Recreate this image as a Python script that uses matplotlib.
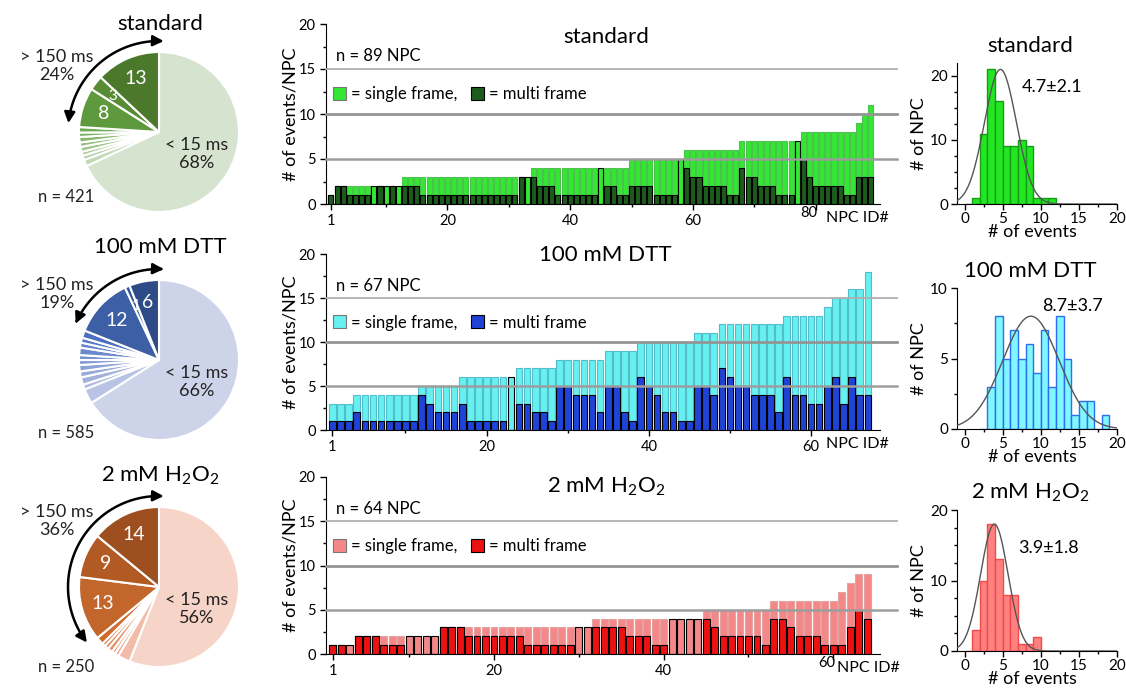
import numpy as np
import matplotlib
matplotlib.use("Agg")
import matplotlib.pyplot as plt
import matplotlib.colors as mcolors
from matplotlib.patches import FancyArrowPatch, Patch
from matplotlib.path import Path
from matplotlib.ticker import MultipleLocator, FixedLocator, FixedFormatter

plt.rcParams['font.family'] = ['Lato', 'DejaVu Sans']
plt.rcParams['mathtext.fontset'] = 'custom'
plt.rcParams['mathtext.rm'] = 'Lato'
plt.rcParams['mathtext.it'] = 'Lato:italic'
plt.rcParams['mathtext.bf'] = 'Lato:bold'

W, H = 1126, 688

titles = ['standard', '100 mM DTT', '2 mM H$_2$O$_2$']

# pie charts: share of events (%) per dwell time class
pie_fast = [68, 66, 56]          # < 15 ms
pie_slow_pct = [24, 19, 36]      # > 150 ms
pie_n = [421, 585, 250]
pie_mid = [
    [1.3, 0.9, 0.8, 1.0, 0.9, 1.1, 0.9, 1.1],
    [3.0, 1.0, 1.5, 1.2, 1.3, 1.0, 1.0, 1.5, 1.0, 1.0, 1.5],
    [2.5, 0.8, 0.7, 1.0, 0.8, 0.7, 1.5],
]
pie_slow = [[8, 3, 13], [12, 1, 6], [13, 9, 14]]

# events per NPC (sorted), total and multi frame part
std_total = [1, 2, 2, 2, 2, 2, 2, 2, 2, 2, 2, 2,
             3, 3, 3, 3, 3, 3, 3, 3, 3, 3, 3, 3, 3, 3, 3, 3, 3, 3, 3, 3, 3,
             4, 4, 4, 4, 4, 4, 4, 4, 4, 4, 4, 4, 4, 4, 4, 4,
             5, 5, 5, 5, 5, 5, 5, 5, 5,
             6, 6, 6, 6, 6, 6, 6, 6, 6,
             7, 7, 7, 7, 7, 7, 7, 7, 7, 7,
             8, 8, 8, 8, 8, 8, 8, 8, 8,
             9, 10, 11]
std_multi = [1, 2, 2, 1, 1, 1, 1, 0, 2, 0, 2, 0,
             2, 2, 2, 1, 1, 1, 1, 1, 1, 1, 1, 1, 1, 1, 1, 1, 1, 1, 1, 3, 0,
             3, 2, 2, 2, 1, 1, 1, 1, 1, 1, 1, 0, 2, 2, 1, 1,
             2, 2, 2, 2, 1, 1, 1, 1, 0,
             4, 3, 3, 2, 2, 2, 2, 1, 1,
             4, 3, 3, 2, 2, 2, 1, 1, 1, 0,
             5, 3, 2, 2, 2, 2, 2, 1, 1,
             3, 3, 3]

dtt_total = [3, 3, 3, 4, 4, 4, 4, 4, 4, 4, 4,
             5, 5, 5, 5, 5, 6, 6, 6, 6, 6, 6, 6,
             7, 7, 7, 7, 7, 8, 8, 8, 8, 8, 8,
             9, 9, 9, 9, 10, 10, 10, 10, 10, 10, 10,
             11, 11, 11, 12, 12, 12, 12, 12, 12, 12, 12,
             13, 13, 13, 13, 13, 14, 15, 15, 16, 16, 18]
dtt_multi = [1, 1, 1, 2, 1, 1, 1, 1, 1, 1, 1,
             4, 3, 2, 2, 2, 3, 1, 1, 1, 1, 1, 0,
             3, 3, 2, 2, 1, 5, 5, 4, 4, 4, 2,
             5, 5, 2, 1, 6, 5, 4, 2, 2, 1, 1,
             5, 5, 4, 7, 6, 5, 5, 4, 4, 4, 2,
             6, 4, 4, 3, 3, 5, 6, 3, 6, 4, 4]

h2o2_total = [1, 1, 1, 2, 2, 2, 2, 2, 2, 2, 2, 2, 2,
              3, 3, 3, 3, 3, 3, 3, 3, 3, 3, 3, 3, 3, 3, 3, 3, 3, 3,
              4, 4, 4, 4, 4, 4, 4, 4, 4, 4, 4, 4, 4,
              5, 5, 5, 5, 5, 5, 5, 5,
              6, 6, 6, 6, 6, 6, 6, 6,
              7, 8, 9, 9]
h2o2_multi = [1, 1, 0, 2, 2, 2, 1, 1, 1, 0, 0, 0, 0,
              3, 3, 3, 2, 2, 2, 2, 2, 2, 2, 1, 1, 1, 1, 1, 1, 0, 0,
              3, 3, 3, 3, 2, 2, 2, 1, 1, 0, 0, 0, 0,
              4, 3, 2, 2, 2, 2, 2, 1,
              4, 4, 3, 2, 2, 2, 1, 1,
              1, 3, 5, 4]

totals = [std_total, dtt_total, h2o2_total]
multis = [std_multi, dtt_multi, h2o2_multi]
npc_ticks = [[1, 20, 40, 60, 80], [1, 20, 40, 60], [1, 20, 40, 60]]
raise_last_tick = [True, False, True]
npc_label_x = [1.015, 1.015, 1.035]

# gaussian fits of the histograms
fit_mean = [4.7, 8.7, 3.9]
fit_sd = [2.1, 3.7, 1.8]
fit_peak = [21.0, 8.0, 18.0]
hist_ymax = [22, 10, 20]
hist_ymajor = [10, 5, 10]

# colours
c_fast = ['#d6e4cf', '#cdd4ea', '#f7d4c8']
c_mid_lo = ['#c3d9b6', '#b9c3e4', '#f3bba9']
c_mid_hi = ['#6fab52', '#4b70c3', '#cf6b2d']
c_slow = [['#5e9a3d', '#578b34', '#4b782b'],
          ['#3c5fa6', '#35569b', '#2e4b87'],
          ['#c2662b', '#b25a23', '#9d4f1f']]
c_single = ['#33e833', '#66f0f0', '#f48888']
c_single_edge = ['#4fbf4f', '#55bccb', '#e3a3a3']
c_multi = ['#1d5c1d', '#1f43d6', '#ee1111']
c_hist = ['#22e622', '#80f6ff', '#ff8080']
c_hist_edge = ['#179c17', '#2d6ff0', '#f04a4a']


def mix(a, b, t):
	a = np.array(mcolors.to_rgb(a))
	b = np.array(mcolors.to_rgb(b))
	return tuple(a + (b - a) * t)


def draw_pies(fig):
	ax = fig.add_axes([0, 0, 1, 1])
	cx, R = 159, 80
	pie_cy = [132, 360, 587]
	n_y = [197, 433, 667]
	title_y = [24, 247, 476]
	for i in range(3):
		cy = H - pie_cy[i]
		mids = pie_mid[i]
		mcol = [mix(c_mid_lo[i], c_mid_hi[i], t) for t in np.linspace(0, 1, len(mids))]
		vals = [pie_fast[i]] + mids + pie_slow[i]
		cols = [c_fast[i]] + mcol + c_slow[i]
		wedges, _ = ax.pie(vals, colors=cols, startangle=90, counterclock=False,
						   center=(cx, cy), radius=R,
						   wedgeprops=dict(edgecolor='white', linewidth=1.5))
		# numbers in the slow slices
		for k, v in enumerate(pie_slow[i]):
			w = wedges[1 + len(mids) + k]
			a = np.radians((w.theta1 + w.theta2) / 2)
			fs = 14 if v >= 5 else 11
			ax.text(cx + 0.73 * R * np.cos(a), cy + 0.73 * R * np.sin(a), str(v),
					color='white', fontsize=fs, ha='center', va='center')
		ax.text(cx + 38, cy - 22, '< 15 ms\n%d%%' % pie_fast[i], fontsize=13,
				ha='center', va='center', linespacing=1.15, color='#222222')
		ax.text(cx - 102, cy + 66, '> 150 ms\n%d%%' % pie_slow_pct[i], fontsize=13,
				ha='center', va='center', linespacing=1.15, color='#222222')
		ax.text(cx - 93, H - n_y[i], 'n = %d' % pie_n[i], fontsize=12,
				ha='center', va='center', color='#222222')
		ax.text(cx + 1, H - title_y[i], titles[i], fontsize=16, ha='center', va='center')
		# curved arrow over the > 150 ms slices
		ang = np.radians(np.linspace(87, 88 + 3.6 * pie_slow_pct[i], 50))
		pts = np.column_stack([cx + 91 * np.cos(ang), cy + 91 * np.sin(ang)])
		arr = FancyArrowPatch(path=Path(pts), arrowstyle='<|-|>', mutation_scale=16,
							  color='black', lw=1.8)
		ax.add_patch(arr)
	ax.set_aspect('auto')
	ax.set_xlim(0, W)
	ax.set_ylim(0, H)
	ax.axis('off')


def draw_bars(fig, i, y0, y20):
	ax = fig.add_axes([326 / W, (H - y0) / H, 554 / W, (y0 - y20) / H])
	tot = np.array(totals[i])
	mul = np.array(multis[i])
	ids = np.arange(1, len(tot) + 1)
	edges = ['black' if (m == 0 or m == t) else c_single_edge[i] for t, m in zip(tot, mul)]
	ax.bar(ids, tot, width=0.82, color=c_single[i], edgecolor=edges, linewidth=0.8, zorder=2)
	ax.bar(ids, mul, width=0.82, color=c_multi[i], edgecolor='black', linewidth=0.8, zorder=3)
	for yv, lw, c in [(5, 1.8, '#9d9d9d'), (10, 2.0, '#959595'), (15, 1.3, '#b0b0b0')]:
		ax.axhline(yv, color=c, lw=lw, zorder=4, xmax=1.03, clip_on=False)
	ax.set_xlim(0.2, len(tot) + 1.5)
	ax.set_ylim(0, 20)
	ticks = npc_ticks[i]
	labels = [str(t) for t in ticks]
	if raise_last_tick[i]:
		labels[-1] = ''
		ax.annotate(str(ticks[-1]), xy=(ticks[-1], 0), xycoords=('data', 'axes fraction'),
					xytext=(-5, -6.5), textcoords='offset points', ha='center', va='center',
					fontsize=10.5)
	ax.xaxis.set_major_locator(FixedLocator(ticks))
	ax.xaxis.set_major_formatter(FixedFormatter(labels))
	ax.xaxis.set_minor_locator(FixedLocator([10, 30, 50, 70] if len(tot) > 70 else [10, 30, 50]))
	ax.yaxis.set_major_locator(MultipleLocator(5))
	ax.yaxis.set_minor_locator(MultipleLocator(2.5))
	ax.tick_params(which='both', direction='out', width=1, labelsize=10.5)
	ax.tick_params(which='major', length=4)
	ax.tick_params(which='minor', length=2.5)
	for s in ['top', 'right']:
		ax.spines[s].set_visible(False)
	ax.set_ylabel('# of events/NPC', fontsize=13)
	ax.yaxis.set_label_coords(-0.05, 0.5)
	ax.text(npc_label_x[i], -0.08, 'NPC ID#', transform=ax.transAxes, ha='right',
			va='center', fontsize=11.5)
	title_v = [18.6, 19.9, 18.9]
	ax.text(0.505, title_v[i] / 20, titles[i], transform=ax.transAxes, ha='center',
			va='center', fontsize=16)
	ax.text(0.018, 16.4 / 20, 'n = %d NPC' % len(tot), transform=ax.transAxes,
			ha='left', va='center', fontsize=12)
	handles = [Patch(facecolor=c_single[i], edgecolor='#777777', lw=0.8),
			   Patch(facecolor=c_multi[i], edgecolor='black', lw=0.8)]
	ax.legend(handles, ['= single frame,', '= multi frame'], loc='center left',
			  bbox_to_anchor=(0.012, 12.2 / 20), ncol=2, frameon=False, fontsize=12,
			  handlelength=0.8, handleheight=0.8, handletextpad=0.3,
			  columnspacing=0.8, borderaxespad=0, borderpad=0)


def draw_hist(fig, i, y0, ytop):
	ax = fig.add_axes([957 / W, (H - y0) / H, 160 / W, (y0 - ytop) / H])
	tot = np.array(totals[i])
	bins = np.arange(tot.min() - 1, tot.max() + 2, 1)
	ax.hist(tot, bins=bins, color=c_hist[i], edgecolor=c_hist_edge[i], linewidth=1, zorder=2)
	xs = np.linspace(-1, 20, 300)
	ax.plot(xs, fit_peak[i] * np.exp(-(xs - fit_mean[i]) ** 2 / (2 * fit_sd[i] ** 2)),
			color='#555555', lw=1, zorder=3)
	ax.set_xlim(-1, 20)
	ax.set_ylim(0, hist_ymax[i])
	ax.xaxis.set_major_locator(MultipleLocator(5))
	ax.xaxis.set_minor_locator(MultipleLocator(2.5))
	ax.yaxis.set_major_locator(MultipleLocator(hist_ymajor[i]))
	ax.yaxis.set_minor_locator(MultipleLocator(2.5))
	ax.tick_params(which='both', direction='out', width=1, labelsize=11)
	ax.tick_params(which='major', length=4)
	ax.tick_params(which='minor', length=2.5)
	ax.tick_params(axis='x', pad=2)
	ax.tick_params(axis='y', pad=2.5)
	for s in ['top', 'right']:
		ax.spines[s].set_visible(False)
	ax.set_ylabel('# of NPC', fontsize=13)
	ax.yaxis.set_label_coords(-0.19, 0.5)
	ax.set_xlabel('# of events', fontsize=13)
	ax.xaxis.set_label_coords(0.47, -0.145)
	ax.text(0.456, 1.12, titles[i], transform=ax.transAxes, ha='center', va='center', fontsize=16)
	ann_xy = [(0.594, 0.83), (0.72, 0.872), (0.57, 0.73)]
	ax.text(ann_xy[i][0], ann_xy[i][1], '%.1f\u00b1%.1f' % (fit_mean[i], fit_sd[i]),
			transform=ax.transAxes, ha='center', va='center', fontsize=13)


def main():
	fig = plt.figure(figsize=(W / 100, H / 100), dpi=100)
	draw_pies(fig)
	bar_px = [(204, 24), (430, 254), (654, 477)]
	for i, (y0, y20) in enumerate(bar_px):
		draw_bars(fig, i, y0, y20)
	hist_px = [(204, 63), (429, 288), (651, 510)]
	for i, (y0, yt) in enumerate(hist_px):
		draw_hist(fig, i, y0, yt)
	fig.savefig('out.png', dpi=100)


if __name__ == "__main__":
	main()
